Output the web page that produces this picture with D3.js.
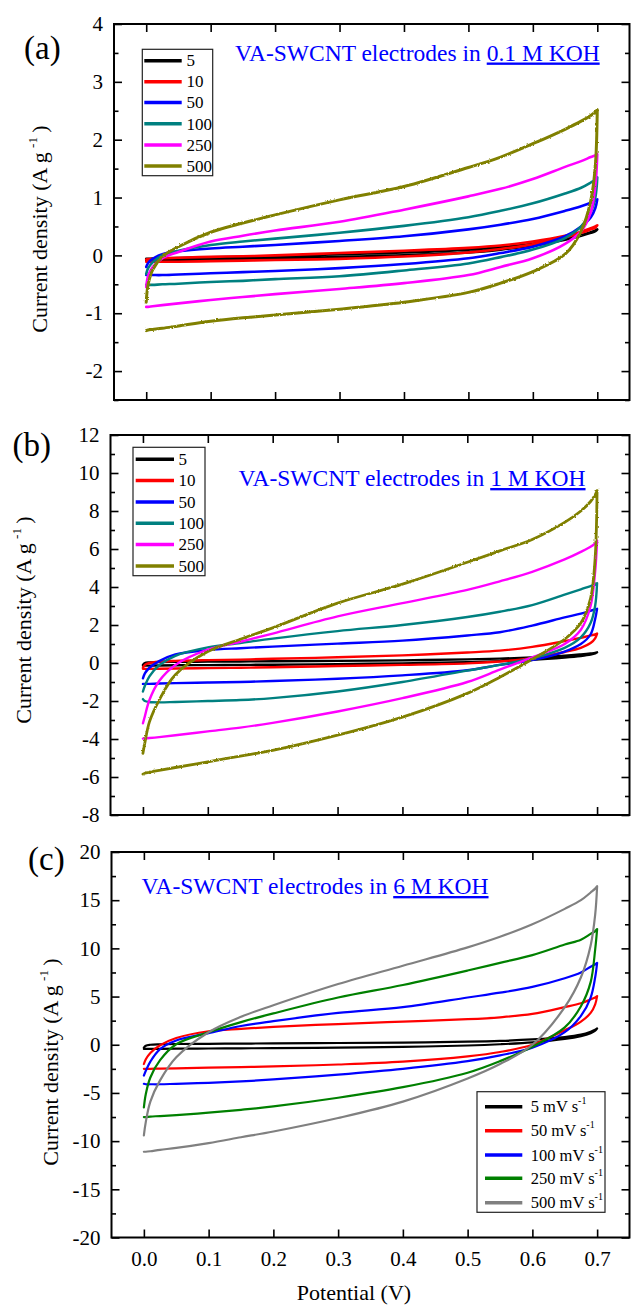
<!DOCTYPE html>
<html><head><meta charset="utf-8">
<script src="https://cdn.jsdelivr.net/npm/d3@7"></script>
<style>
body{margin:0;background:#fff;}
svg{display:block;}
text{font-family:"Liberation Serif","Times New Roman",serif;fill:#000;}
</style>
</head><body>
<svg id="chart" width="631" height="1306"></svg>
<script>
// ---------- DATA ----------
const potential = [0, 0.003, 0.01, 0.025, 0.05, 0.1, 0.15, 0.2, 0.3, 0.4, 0.5, 0.55, 0.6, 0.65, 0.675, 0.69, 0.697, 0.7];
const xTicks = [0, 0.1, 0.2, 0.3, 0.4, 0.5, 0.6, 0.7];
const xTickLabels = ["0.0", "0.1", "0.2", "0.3", "0.4", "0.5", "0.6", "0.7"];

// Panel (a): 0.1 M KOH  (anodic = forward sweep, cathodic = reverse sweep, both listed at `potential`)
const aRates = ["5", "10", "50", "100", "250", "500"];
const a5Anodic    = [-0.06,-0.06,-0.055,-0.05,-0.045,-0.035,-0.025,-0.015,0.02,0.05,0.1,0.14,0.2,0.29,0.35,0.4,0.43,0.45];
const a5Cathodic  = [-0.08,-0.08,-0.08,-0.08,-0.08,-0.07,-0.06,-0.05,-0.03,0.0,0.05,0.10,0.17,0.27,0.34,0.39,0.42,0.45];
const a10Anodic   = [-0.07,-0.065,-0.06,-0.05,-0.04,-0.025,-0.015,0.0,0.04,0.08,0.13,0.17,0.24,0.34,0.41,0.47,0.50,0.52];
const a10Cathodic = [-0.11,-0.11,-0.11,-0.11,-0.11,-0.1,-0.09,-0.08,-0.06,-0.02,0.05,0.11,0.19,0.31,0.39,0.45,0.48,0.52];
const a50Anodic   = [-0.2,-0.13,-0.06,0.02,0.07,0.12,0.15,0.18,0.25,0.33,0.45,0.53,0.63,0.77,0.85,0.91,0.95,0.97];
const a50Cathodic = [-0.34,-0.34,-0.34,-0.34,-0.33,-0.31,-0.29,-0.27,-0.22,-0.15,-0.05,0.04,0.15,0.33,0.50,0.66,0.82,0.97];
const a100Anodic  = [-0.32,-0.22,-0.12,0.0,0.08,0.18,0.24,0.29,0.39,0.51,0.66,0.77,0.90,1.07,1.17,1.26,1.31,1.35];
const a100Cathodic= [-0.51,-0.51,-0.51,-0.5,-0.49,-0.46,-0.44,-0.41,-0.36,-0.26,-0.14,-0.03,0.1,0.3,0.5,0.75,1.0,1.35];
const a250Anodic  = [-0.55,-0.35,-0.2,-0.05,0.06,0.24,0.34,0.43,0.58,0.79,1.02,1.15,1.32,1.53,1.63,1.70,1.73,1.75];
const a250Cathodic= [-0.89,-0.89,-0.88,-0.86,-0.83,-0.77,-0.72,-0.67,-0.58,-0.48,-0.34,-0.2,-0.05,0.2,0.42,0.75,1.2,1.75];
const a500Anodic  = [-0.81,-0.5,-0.25,-0.02,0.15,0.40,0.56,0.70,0.96,1.19,1.52,1.70,1.93,2.18,2.32,2.42,2.48,2.52];
const a500Cathodic= [-1.30,-1.29,-1.28,-1.26,-1.22,-1.14,-1.08,-1.03,-0.93,-0.81,-0.64,-0.48,-0.28,0.02,0.42,0.95,1.55,2.52];
const aYTicks = [-2, -1, 0, 1, 2, 3, 4];
const aYTickLabels = ["-2", "-1", "0", "1", "2", "3", "4"];

// Panel (b): 1 M KOH
const bRates = ["5", "10", "50", "100", "250", "500"];
const b5Anodic    = [-0.1,0.0,0.03,0.05,0.06,0.07,0.08,0.09,0.11,0.14,0.19,0.23,0.29,0.38,0.45,0.5,0.53,0.56];
const b5Cathodic  = [-0.14,-0.14,-0.14,-0.13,-0.12,-0.11,-0.1,-0.09,-0.06,-0.02,0.04,0.1,0.17,0.29,0.37,0.44,0.5,0.56];
const b10Anodic   = [-0.25,-0.1,0.0,0.07,0.11,0.15,0.18,0.22,0.3,0.4,0.55,0.65,0.85,1.15,1.32,1.45,1.5,1.55];
const b10Cathodic = [-0.3,-0.31,-0.31,-0.3,-0.29,-0.27,-0.25,-0.22,-0.16,-0.1,-0.02,0.08,0.25,0.58,0.8,1.05,1.3,1.55];
const b50Anodic   = [-0.81,-0.55,-0.25,0.1,0.45,0.68,0.78,0.86,1.02,1.18,1.45,1.62,1.97,2.4,2.6,2.75,2.82,2.85];
const b50Cathodic = [-1.1,-1.1,-1.1,-1.08,-1.06,-1.03,-1.0,-0.95,-0.83,-0.65,-0.38,-0.1,0.15,0.6,1.0,1.5,2.3,2.85];
const b100Anodic  = [-1.5,-1.2,-0.7,-0.12,0.38,0.82,1.05,1.28,1.68,2.0,2.42,2.7,3.05,3.6,3.88,4.05,4.12,4.2];
const b100Cathodic= [-1.9,-2.0,-2.05,-2.07,-2.05,-2.0,-1.95,-1.85,-1.5,-1.0,-0.4,-0.1,0.25,0.8,1.35,2.1,3.0,4.2];
const b250Anodic  = [-3.17,-2.8,-1.95,-0.95,-0.1,0.7,1.12,1.55,2.45,3.15,3.85,4.3,4.8,5.45,5.85,6.12,6.3,6.44];
const b250Cathodic= [-3.98,-3.97,-3.95,-3.9,-3.8,-3.6,-3.4,-3.15,-2.55,-1.85,-1.0,-0.35,0.3,1.0,1.75,3.0,4.8,6.44];
const b500Anodic  = [-4.75,-4.2,-3.1,-1.95,-0.62,0.6,1.25,1.85,3.15,4.15,5.3,5.9,6.5,7.4,8.0,8.5,8.85,9.07];
const b500Cathodic= [-5.85,-5.8,-5.75,-5.65,-5.5,-5.2,-4.9,-4.6,-3.8,-2.85,-1.6,-0.75,0.2,1.25,2.1,3.4,5.5,9.07];
const bYTicks = [-8, -6, -4, -2, 0, 2, 4, 6, 8, 10, 12];
const bYTickLabels = ["-8", "-6", "-4", "-2", "0", "2", "4", "6", "8", "10", "12"];

// Panel (c): 6 M KOH
const cRates = ["5 mV s", "50 mV s", "100 mV s", "250 mV s", "500 mV s"];
const c5Anodic    = [-0.3,-0.1,0.0,0.05,0.08,0.1,0.12,0.14,0.18,0.23,0.32,0.4,0.55,0.8,1.05,1.35,1.55,1.7];
const c5Cathodic  = [-0.43,-0.43,-0.43,-0.42,-0.41,-0.39,-0.37,-0.35,-0.3,-0.22,-0.08,0.05,0.25,0.6,0.9,1.2,1.45,1.7];
const c50Anodic   = [-2.0,-1.5,-0.85,-0.05,0.7,1.4,1.65,1.85,2.15,2.4,2.65,2.85,3.2,3.9,4.3,4.7,4.9,5.05];
const c50Cathodic = [-2.5,-2.5,-2.5,-2.47,-2.45,-2.38,-2.32,-2.25,-2.05,-1.75,-1.2,-0.75,0.0,1.5,2.4,3.3,4.2,5.05];
const c100Anodic  = [-3.2,-2.7,-1.75,-0.45,0.45,1.2,1.95,2.45,3.3,3.9,4.9,5.4,6.0,6.9,7.5,8.1,8.35,8.5];
const c100Cathodic= [-4.05,-4.1,-4.1,-4.1,-4.05,-3.95,-3.8,-3.6,-3.1,-2.5,-1.7,-1.1,-0.3,1.3,3.0,4.9,7.0,8.5];
const c250Anodic  = [-6.5,-5.1,-3.4,-1.6,0.05,1.3,2.35,3.25,4.9,6.2,7.7,8.5,9.3,10.4,10.9,11.5,11.8,12.0];
const c250Cathodic= [-7.5,-7.5,-7.45,-7.4,-7.3,-7.05,-6.75,-6.4,-5.5,-4.4,-2.9,-1.7,-0.2,1.8,4.0,6.5,9.9,12.0];
const c500Anodic  = [-9.4,-8.0,-5.9,-3.7,-1.3,1.3,2.9,4.1,6.3,8.2,10.1,11.2,12.5,14.1,15.0,15.8,16.2,16.45];
const c500Cathodic= [-11.1,-11.1,-11.05,-10.9,-10.7,-10.2,-9.6,-9.0,-7.6,-5.9,-3.5,-2.0,0.0,3.9,7.0,10.3,13.5,16.45];
const cYTicks = [-20, -15, -10, -5, 0, 5, 10, 15, 20];
const cYTickLabels = ["-20", "-15", "-10", "-5", "0", "5", "10", "15", "20"];

// ---------- STYLES ----------
const colorsAB = ["#000000", "#ff0000", "#0000ff", "#008080", "#ff00ff", "#808000"];
const colorsC  = ["#000000", "#ff0000", "#0000ff", "#008000", "#808080"];

const svg = d3.select("#chart");
const FONT = '"Liberation Serif","Times New Roman",serif';

// slight jagged look for the noisy 500 mV/s traces in (a) and (b)
const defs = svg.append("defs");
const flt = defs.append("filter").attr("id", "jag").attr("filterUnits", "userSpaceOnUse")
  .attr("x", 0).attr("y", 0).attr("width", 631).attr("height", 1306);
flt.append("feTurbulence").attr("type", "fractalNoise").attr("baseFrequency", 0.6)
  .attr("numOctaves", 1).attr("seed", 4).attr("result", "n");
flt.append("feDisplacementMap").attr("in", "SourceGraphic").attr("in2", "n")
  .attr("scale", 2.6).attr("xChannelSelector", "R").attr("yChannelSelector", "G");

function drawPanel(cfg) {
  const g = svg.append("g");
  const x = d3.scaleLinear().domain([-0.05, 0.75]).range([cfg.left, cfg.right]);
  const y = d3.scaleLinear().domain(cfg.yDomain).range([cfg.bottom, cfg.top]);

  const line = d3.line().x(d => x(d[0])).y(d => y(d[1])).curve(d3.curveCatmullRom.alpha(0.5));

  cfg.series.forEach((s, i) => {
    const pts = potential.map((p, k) => [p, s.an[k]])
      .concat(potential.map((p, k) => [p, s.ca[k]]).reverse());
    const path = g.append("path").attr("d", line(pts)).attr("fill", "none")
      .attr("stroke", cfg.colors[i]).attr("stroke-width", cfg.lw)
      .attr("stroke-linejoin", "round").attr("stroke-linecap", "round");
    if (cfg.noisy && i === cfg.series.length - 1) {
      path.attr("filter", "url(#jag)").attr("stroke-width", cfg.lw + 0.4);
    }
  });

  const T = 8, t = 4.5;
  const styleAxis = sel => {
    sel.select(".domain").remove();
    sel.selectAll("line").attr("stroke", "#000").attr("stroke-width", 1.6);
    sel.selectAll("text").attr("font-family", FONT).attr("font-size", 21).attr("fill", "#000");
  };
  g.append("g").attr("transform", `translate(0,${cfg.bottom})`)
    .call(d3.axisBottom(x).tickValues(xTicks).tickSize(-T).tickSizeOuter(0).tickPadding(14)
      .tickFormat((d, i) => cfg.xLabels ? xTickLabels[i] : ""))
    .call(styleAxis);
  g.append("g").attr("transform", `translate(0,${cfg.top})`)
    .call(d3.axisTop(x).tickValues(xTicks).tickSize(-T).tickSizeOuter(0).tickFormat(""))
    .call(styleAxis);
  g.append("g").attr("transform", `translate(${cfg.left},0)`)
    .call(d3.axisLeft(y).tickValues(cfg.yTicks).tickSize(-T).tickSizeOuter(0).tickPadding(11)
      .tickFormat((d, i) => cfg.yLabels[i]))
    .call(styleAxis);
  g.append("g").attr("transform", `translate(${cfg.right},0)`)
    .call(d3.axisRight(y).tickValues(cfg.yTicks).tickSize(-T).tickSizeOuter(0).tickFormat(""))
    .call(styleAxis);
  const minor = d3.range(cfg.yDomain[0], cfg.yDomain[1] + 1e-9, cfg.minorStep)
    .filter(v => !cfg.yTicks.some(m => Math.abs(m - v) < 1e-9));
  g.append("g").attr("transform", `translate(${cfg.left},0)`)
    .call(d3.axisLeft(y).tickValues(minor).tickSize(-t).tickSizeOuter(0).tickFormat(""))
    .call(styleAxis);
  g.append("g").attr("transform", `translate(${cfg.right},0)`)
    .call(d3.axisRight(y).tickValues(minor).tickSize(-t).tickSizeOuter(0).tickFormat(""))
    .call(styleAxis);

  g.append("rect").attr("x", cfg.left).attr("y", cfg.top)
    .attr("width", cfg.right - cfg.left).attr("height", cfg.bottom - cfg.top)
    .attr("fill", "none").attr("stroke", "#000").attr("stroke-width", 2);

  // panel letter
  g.append("text").attr("x", cfg.letterX).attr("y", cfg.letterY)
    .attr("font-size", 33).text(cfg.letter);

  // y title
  const yt = g.append("text").attr("transform", `translate(${cfg.titleX},${cfg.titleY}) rotate(-90)`)
    .attr("text-anchor", "middle").attr("font-size", 22);
  yt.append("tspan").text("Current density (A g\u2009");
  yt.append("tspan").attr("font-size", 13).attr("dy", -10).text("-1");
  yt.append("tspan").attr("dy", 10).text("\u2009)");

  // annotation
  const an = g.append("text").attr("x", cfg.noteX).attr("y", cfg.noteY)
    .attr("font-size", 23.5).style("fill", "#0000ff");
  an.append("tspan").style("fill", "#0000ff").text("VA-SWCNT electrodes in ");
  an.append("tspan").style("fill", "#0000ff").style("text-decoration", "underline").text(cfg.conc);

  // legend
  const L = cfg.legend;
  g.append("rect").attr("x", L.x).attr("y", L.y).attr("width", L.w).attr("height", L.h)
    .attr("fill", "#fff").attr("stroke", "#222").attr("stroke-width", 1.2);
  cfg.rates.forEach((r, i) => {
    const ry = L.rows[i];
    g.append("line").attr("x1", L.lx1).attr("x2", L.lx2).attr("y1", ry).attr("y2", ry)
      .attr("stroke", cfg.colors[i]).attr("stroke-width", 3.5);
    const tx = g.append("text").attr("x", L.tx).attr("y", ry).attr("dy", "0.34em")
      .attr("font-size", L.fs);
    tx.append("tspan").text(r);
    if (cfg.sup) {
      tx.append("tspan").attr("font-size", 10).attr("dy", -8).text("-1");
    }
  });
}

drawPanel({
  letter: "(a)", letterX: 24, letterY: 59,
  left: 114, right: 629.5, top: 24, bottom: 400,
  yDomain: [-2.5, 4], yTicks: aYTicks, yLabels: aYTickLabels, minorStep: 0.5,
  xLabels: false, lw: 2.6, noisy: true,
  colors: colorsAB, rates: aRates,
  series: [
    {an: a5Anodic, ca: a5Cathodic}, {an: a10Anodic, ca: a10Cathodic},
    {an: a50Anodic, ca: a50Cathodic}, {an: a100Anodic, ca: a100Cathodic},
    {an: a250Anodic, ca: a250Cathodic}, {an: a500Anodic, ca: a500Cathodic}
  ],
  titleX: 47, titleY: 229,
  noteX: 235, noteY: 60.5, conc: "0.1 M KOH",
  legend: {x: 142.3, y: 49.3, w: 70.4, h: 126.4, lx1: 144.3, lx2: 181.7, tx: 186.5,
           rows: [60.7, 81.7, 102.6, 123.8, 145, 166], fs: 17},
  sup: false
});

drawPanel({
  letter: "(b)", letterX: 12.5, letterY: 455.5,
  left: 110.5, right: 629.5, top: 435, bottom: 815,
  yDomain: [-8, 12], yTicks: bYTicks, yLabels: bYTickLabels, minorStep: 1,
  xLabels: false, lw: 2.4, noisy: true,
  colors: colorsAB, rates: bRates,
  series: [
    {an: b5Anodic, ca: b5Cathodic}, {an: b10Anodic, ca: b10Cathodic},
    {an: b50Anodic, ca: b50Cathodic}, {an: b100Anodic, ca: b100Cathodic},
    {an: b250Anodic, ca: b250Cathodic}, {an: b500Anodic, ca: b500Cathodic}
  ],
  titleX: 31, titleY: 620,
  noteX: 238.5, noteY: 486, conc: "1 M KOH",
  legend: {x: 133, y: 447.3, w: 72, h: 128.4, lx1: 135.7, lx2: 174, tx: 178.5,
           rows: [459.3, 480.6, 502, 523.3, 544.5, 566], fs: 17},
  sup: false
});

drawPanel({
  letter: "(c)", letterX: 28, letterY: 870,
  left: 111.5, right: 629.5, top: 852, bottom: 1237.5,
  yDomain: [-20, 20], yTicks: cYTicks, yLabels: cYTickLabels, minorStep: 2.5,
  xLabels: true, lw: 2.2, noisy: false,
  colors: colorsC, rates: cRates,
  series: [
    {an: c5Anodic, ca: c5Cathodic}, {an: c50Anodic, ca: c50Cathodic},
    {an: c100Anodic, ca: c100Cathodic}, {an: c250Anodic, ca: c250Cathodic},
    {an: c500Anodic, ca: c500Cathodic}
  ],
  titleX: 57.5, titleY: 1062,
  noteX: 141.5, noteY: 894, conc: "6 M KOH",
  legend: {x: 477, y: 1091.7, w: 128, h: 120.6, lx1: 485, lx2: 522.3, tx: 530.7,
           rows: [1106.7, 1130.7, 1155, 1178.3, 1202.7], fs: 16.5},
  sup: true
});

svg.append("text").attr("x", 354).attr("y", 1300).attr("text-anchor", "middle")
  .attr("font-size", 22).text("Potential (V)");
</script>
</body></html>
